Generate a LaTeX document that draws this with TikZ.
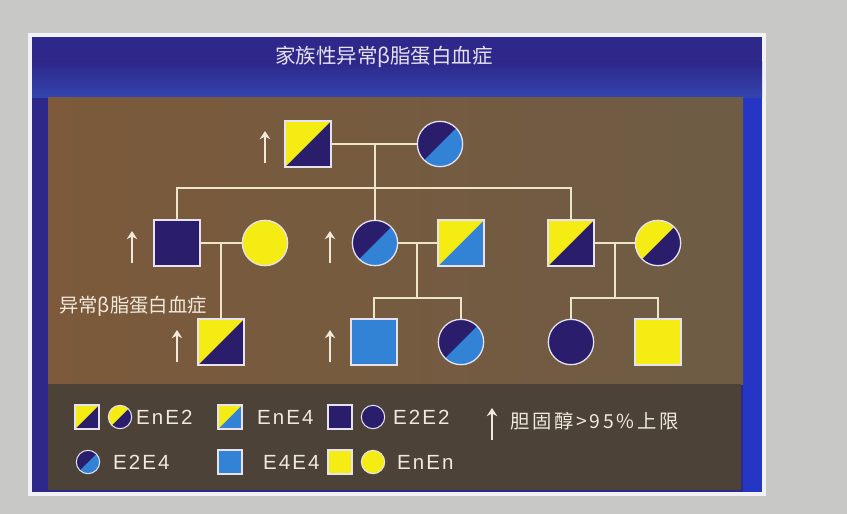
\documentclass[tikz,border=0pt]{standalone}
\usepackage{fontspec}
\setmainfont{Liberation Sans}
\newfontfamily\cjk{Noto Sans CJK SC}
\newfontfamily\cjkwide[LetterSpace=14]{Noto Sans CJK SC}
\newfontfamily\lgd[LetterSpace=10]{Liberation Sans}
\usepackage{xcolor}
\usepackage{tikz}
\usetikzlibrary{arrows.meta}
\definecolor{photo}{HTML}{C8C8C6}
\definecolor{rimw}{HTML}{F2F2F6}
\definecolor{frame}{HTML}{2E288A}
\definecolor{band}{HTML}{3444B0}
\definecolor{frameR}{HTML}{2536C4}
\definecolor{brownL}{HTML}{7C5A3B}
\definecolor{brownR}{HTML}{6E5C45}
\definecolor{legbg}{HTML}{4C4238}
\definecolor{yel}{HTML}{F4EC12}
\definecolor{navy}{HTML}{2A1E6C}
\definecolor{blu}{HTML}{3282D6}
\definecolor{rim}{HTML}{E6E2F0}
\definecolor{wire}{HTML}{EDE5C8}
\definecolor{ink}{HTML}{F0EADC}
\tikzset{
  rel/.style={draw=wire, line width=1.5pt},
  sq/.style={rectangle, draw=rim, line width=1.1pt, minimum size=1.38cm, inner sep=0pt},
  ci/.style={circle, draw=rim, line width=1.1pt, minimum size=1.36cm, inner sep=0pt},
  ssq/.style={sq, minimum size=0.72cm, line width=0.9pt},
  sci/.style={ci, minimum size=0.7cm, line width=0.9pt},
  half/.style 2 args={fill=#2, path picture={\fill[#1] (path picture bounding box.north west) -- (path picture bounding box.north east) -- (path picture bounding box.south west) -- cycle;}},
  enetwo/.style={half={yel}{navy}},
  enefour/.style={half={yel}{blu}},
  etwoefour/.style={half={navy}{blu}},
  etwoetwo/.style={fill=navy},
  efourefour/.style={fill=blu},
  enen/.style={fill=yel},
  uparr/.style={draw=ink, line width=2.2pt, -{Stealth[length=7pt,width=9pt]}},
  lbl/.style={text=ink, font=\lgd\fontsize{17.5}{20}\selectfont, anchor=west, inner sep=0pt}
}
\begin{document}
\begin{tikzpicture}[x=0.03cm, y=-0.03cm]
  \useasboundingbox (0,0) rectangle (847,514);
  % photo, frame and panels
  \fill[photo] (0,0) rectangle (847,514);
  \fill[rimw] (28,33) rectangle (766,496);
  \fill[frame] (32,37) rectangle (762,492);
  \shade[top color=frame, bottom color=band] (32,62) rectangle (762,98);
  \fill[frameR] (743,98) rectangle (762,492);
  \shade[left color=brownL, right color=brownR] (48,98) rectangle (743,384);
  \fill[legbg] (48,384) rectangle (741,490);

  \node[text=rim, font=\cjk\fontsize{17.5}{20}\selectfont] (title) at (384,57) {家族性异常β脂蛋白血症};

  % generation I
  \node[sq, enetwo] (I1) at (308,144) {};
  \node[ci, etwoefour] (I2) at (440,144) {};
  \coordinate (m1) at (375,144);
  \coordinate (s1) at (375,188);

  % generation II
  \node[sq, etwoetwo] (II1) at (177,243) {};
  \node[ci, enen] (II2) at (265,243) {};
  \node[ci, etwoefour] (II3) at (375,243) {};
  \node[sq, enefour] (II4) at (461,243) {};
  \node[sq, enetwo] (II5) at (571,243) {};
  \node[ci, enetwo] (II6) at (658,243) {};
  \coordinate (m2) at (221,243);
  \coordinate (m3) at (417,243);
  \coordinate (s3) at (417,298);
  \coordinate (m4) at (615,243);
  \coordinate (s4) at (615,298);

  % generation III
  \node[sq, enetwo] (III1) at (221,342) {};
  \node[sq, efourefour] (III2) at (374,342) {};
  \node[ci, etwoefour] (III3) at (461,342) {};
  \node[ci, etwoetwo] (III4) at (571,342) {};
  \node[sq, enen] (III5) at (658,342) {};

  \node[text=ink, font=\cjk\fontsize{16.5}{18}\selectfont] (note) at (133,306) {异常β脂蛋白血症};

  % lines
  \draw[rel] (I1) -- (I2);
  \draw[rel] (m1) -- (II3);
  \draw[rel] (II1) |- (s1) -| (II5);
  \draw[rel] (II1) -- (II2);
  \draw[rel] (m2) -- (III1);
  \draw[rel] (II3) -- (II4);
  \draw[rel] (m3) -- (s3);
  \draw[rel] (III2) |- (s3) -| (III3);
  \draw[rel] (II5) -- (II6);
  \draw[rel] (m4) -- (s4);
  \draw[rel] (III4) |- (s4) -| (III5);

  % arrows
  \foreach \x/\y in {265/147, 132/247, 330/247, 177/346, 330/346, 492/424}
    \draw[uparr] (\x,\y+16) -- (\x,\y-16);

  % legend
  \node[ssq, enetwo] (k1) at (87,417) {};
  \node[sci, enetwo] (k2) at (120,417) {};
  \node[lbl] (t1) at (136,417) {EnE2};
  \node[ssq, enefour] (k3) at (230,417) {};
  \node[lbl] (t2) at (257,417) {EnE4};
  \node[ssq, etwoetwo] (k4) at (340,417) {};
  \node[sci, etwoetwo] (k5) at (373,417) {};
  \node[lbl] (t3) at (393,417) {E2E2};
  \node[lbl, font=\cjkwide\fontsize{16.5}{18}\selectfont] (t4) at (510,421) {胆固醇>95\%上限};
  \node[sci, etwoefour] (k6) at (88,462) {};
  \node[lbl] (t5) at (113,462) {E2E4};
  \node[ssq, efourefour] (k7) at (230,462) {};
  \node[lbl] (t6) at (263,462) {E4E4};
  \node[ssq, enen] (k8) at (340,462) {};
  \node[sci, enen] (k9) at (373,462) {};
  \node[lbl] (t7) at (397,462) {EnEn};
\end{tikzpicture}
\end{document}
